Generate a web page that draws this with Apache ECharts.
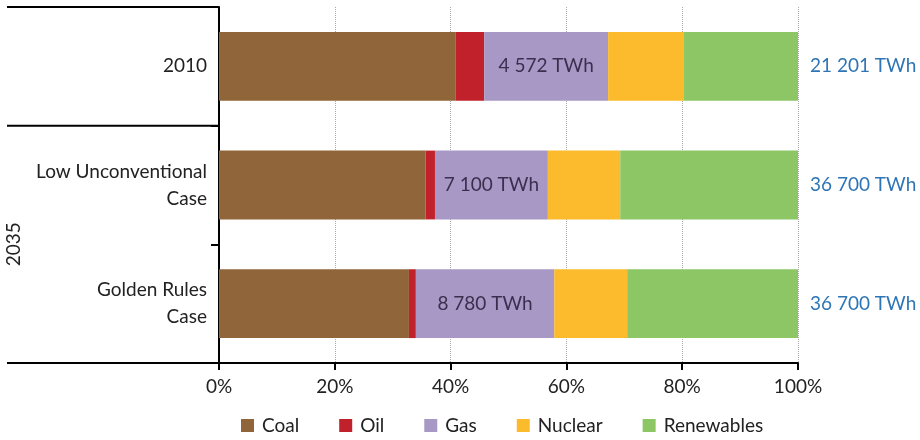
<!DOCTYPE html>
<html>
<head>
<meta charset="utf-8">
<script src="https://cdn.jsdelivr.net/npm/echarts@6/dist/echarts.min.js"></script>
<style>
html,body{margin:0;padding:0;background:#fff;}
#c{width:920px;height:440px;}
</style>
</head>
<body>
<div id="c"></div>
<script>
const categories = ['2010', 'Low Unconventional\nCase', 'Golden Rules\nCase'];
const seriesNames = ['Coal', 'Oil', 'Gas', 'Nuclear', 'Renewables'];
const coal = [40.9, 35.7, 32.8];
const oil = [4.9, 1.6, 1.2];
const gas = [21.4, 19.5, 23.9];
const nuclear = [13.1, 12.5, 12.6];
const renewables = [19.7, 30.7, 29.5];
const gasLabels = ['4 572 TWh', '7 100 TWh', '8 780 TWh'];
const totalLabels = ['21 201 TWh', '36 700 TWh', '36 700 TWh'];
const xTicks = [0, 20, 40, 60, 80, 100];
const groupLabel = '2035';

const colors = ['#8F6539', '#C1212B', '#A898C5', '#FCBB2D', '#8CC665'];
const FONT = 'Lato, "Open Sans", sans-serif';
const FS = 19;
const G = {left: 219, right: 122, top: 7, bottom: 77};
const W = 920, H = 440;
const gx0 = G.left, gx1 = W - G.right, gy0 = G.top, gy1 = H - G.bottom;
const band = (gy1 - gy0) / categories.length;

const dataSets = [coal, oil, gas, nuclear, renewables];
const series = seriesNames.map((name, i) => {
  const s = {
    name: name,
    type: 'bar',
    stack: 'total',
    barWidth: '58%',
    data: dataSets[i],
    itemStyle: {color: colors[i]},
    emphasis: {disabled: true}
  };
  if (name === 'Gas') {
    s.label = {
      show: true, position: 'inside',
      formatter: p => gasLabels[p.dataIndex],
      color: '#3B2E4E', fontSize: FS, fontFamily: FONT
    };
  }
  if (name === 'Renewables') {
    s.label = {
      show: true, position: 'right', distance: 12,
      formatter: p => totalLabels[p.dataIndex],
      color: '#2E75B6', fontSize: FS, fontFamily: FONT
    };
  }
  return s;
});

const chart = echarts.init(document.getElementById('c'));
chart.setOption({
  animation: false,
  textStyle: {fontFamily: FONT},
  grid: {left: G.left, right: G.right, top: G.top, bottom: G.bottom, containLabel: false},
  legend: {
    left: 241, top: 416, padding: 0,
    itemWidth: 13, itemHeight: 13, itemGap: 40,
    icon: 'rect',
    textStyle: {fontSize: FS, color: '#222', fontFamily: FONT, padding: [0, 0, 0, 3]},
    data: seriesNames
  },
  xAxis: {
    type: 'value', min: 0, max: 100, interval: 20,
    axisLine: {show: true, lineStyle: {color: '#000', width: 2}},
    axisTick: {show: true, length: 7, lineStyle: {color: '#000', width: 2}},
    axisLabel: {formatter: v => xTicks.includes(v) ? v + '%' : '', fontSize: FS, color: '#222', margin: 14, fontFamily: FONT},
    splitLine: {show: true, lineStyle: {color: '#aaa', type: 'dotted', width: 1}}
  },
  yAxis: {
    type: 'category', inverse: true, data: categories,
    axisLine: {show: true, lineStyle: {color: '#000', width: 2}},
    axisTick: {show: true, length: 8, lineStyle: {color: '#000', width: 2}},
    axisLabel: {fontSize: FS, color: '#222', margin: 12, lineHeight: 27, align: 'right', fontFamily: FONT}
  },
  series: series,
  graphic: [
    {type: 'line', shape: {x1: 7, y1: gy0, x2: gx0, y2: gy0}, style: {stroke: '#000', lineWidth: 2}, z: 10},
    {type: 'line', shape: {x1: 7, y1: gy0 + band, x2: gx0, y2: gy0 + band}, style: {stroke: '#000', lineWidth: 2}, z: 10},
    {type: 'line', shape: {x1: 7, y1: gy1, x2: gx0, y2: gy1}, style: {stroke: '#000', lineWidth: 2}, z: 10},
    {type: 'text', x: 14, y: gy0 + band * 2, rotation: Math.PI / 2,
      style: {text: groupLabel, fontSize: FS, fill: '#222', fontFamily: FONT, align: 'center', verticalAlign: 'middle'}, z: 10}
  ]
});
</script>
</body>
</html>
